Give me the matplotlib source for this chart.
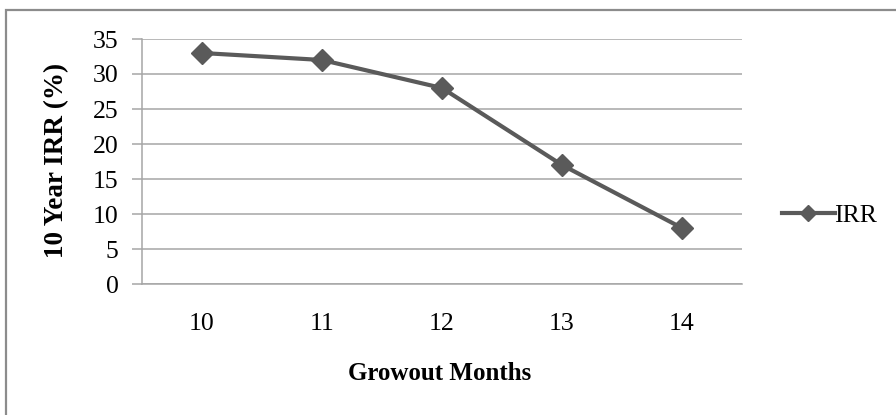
import matplotlib
matplotlib.use("Agg")
import matplotlib.pyplot as plt
from matplotlib.lines import Line2D
from matplotlib.patches import Rectangle

months = ["10", "11", "12", "13", "14"]
irr = [33, 32, 28, 17, 8]
yticks = [0, 5, 10, 15, 20, 25, 30, 35]

plt.rcParams['font.family'] = ['Liberation Serif', 'DejaVu Serif']

W, H = 896, 415
fig = plt.figure(figsize=(W / 100, H / 100), dpi=100)
fig.patch.set_facecolor('white')

# outer chart border (only left and top visible)
fig.add_artist(Rectangle((6 / W, -0.1), 1.2, 1 - 10 / H + 0.1, transform=fig.transFigure,
                         fill=False, edgecolor='#8c8c8c', linewidth=1.6))

left, right = 142 / W, 742 / W
top, bottom = 1 - 39 / H, 1 - 284 / H
ax = fig.add_axes([left, bottom, right - left, top - bottom])
ax.set_facecolor('none')

x = list(range(len(months)))
line_color = '#5a5a5a'
ax.plot(x, irr, color=line_color, linewidth=3.0, marker='D', markersize=11,
        markerfacecolor=line_color, markeredgecolor=line_color, zorder=3, clip_on=False)

ax.set_xlim(-0.5, len(months) - 0.5)
ax.set_ylim(0, 35)
ax.set_yticks(yticks)
ax.set_yticklabels([str(v) for v in yticks])
ax.set_xticks(x)
ax.set_xticklabels(months)

grid_color = '#a6a6a6'
ax.yaxis.grid(True, color=grid_color, linewidth=1.1)
ax.set_axisbelow(True)
for s in ['top', 'right']:
    ax.spines[s].set_visible(False)
ax.spines['left'].set_color(grid_color)
ax.spines['bottom'].set_color(grid_color)
ax.spines['left'].set_linewidth(1.1)
ax.spines['bottom'].set_linewidth(1.1)

ax.tick_params(axis='y', length=7, width=1.1, color=grid_color, pad=10, labelsize=18.5)
ax.tick_params(axis='x', length=0, pad=21, labelsize=18.5)

ax.set_xlabel("Growout Months", fontsize=18, fontweight='bold', labelpad=0)
ax.xaxis.set_label_coords(0.5 * (342 + 537) / W, 1 - 374 / H, transform=fig.transFigure)
ax.set_ylabel("10 Year IRR (%)", fontsize=19.5, fontweight='bold')
ax.yaxis.set_label_coords(57 / W, 1 - 160 / H, transform=fig.transFigure)
ax.xaxis.label.set_verticalalignment('center')
ax.yaxis.label.set_verticalalignment('center')

# legend
handle = Line2D([0], [0], color=line_color, linewidth=3.0, marker='D', markersize=8,
                markerfacecolor=line_color, markeredgecolor=line_color)
leg = fig.legend([handle], ["IRR"], loc='center left',
                 bbox_to_anchor=(769 / W, 1 - 216 / H), frameon=False,
                 fontsize=18.5, handlelength=2.05, handletextpad=0.0, borderpad=0)

fig.savefig("out.png", dpi=100, facecolor='white')
